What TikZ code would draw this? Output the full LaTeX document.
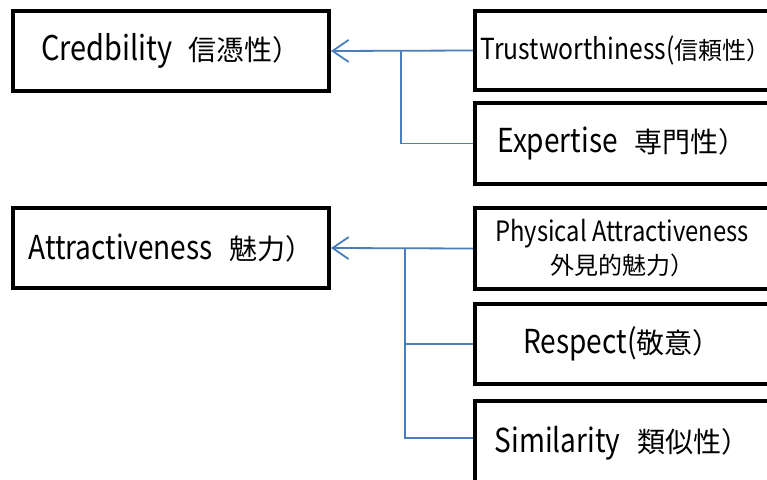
\documentclass[tikz,border=0pt]{standalone}
\usepackage{fontspec}
\setmainfont{Noto Sans CJK JP}
\newfontfamily\latf[FakeStretch=0.85]{Noto Sans CJK JP}
\newcommand\latx[2]{{\latf\fontsize{#1}{#1}\selectfont #2}}
\usetikzlibrary{arrows.meta}
\definecolor{conncol}{RGB}{74,126,187}
\tikzset{
  box/.style={draw=black, line width=4pt, fill=white, rectangle, inner sep=0pt, align=center},
  conn/.style={draw=conncol, line width=1.8pt},
  arr/.style={conn, {Straight Barb[length=16pt,width=22pt,line width=1.8pt]}-},
  bigtxt/.style={font=\fontsize{28}{30}\selectfont},
  midtxt/.style={font=\fontsize{24}{28}\selectfont},
  smalltxt/.style={font=\fontsize{24}{33}\selectfont}
}
\begin{document}
\begin{tikzpicture}[x=1pt,y=-1pt]
\useasboundingbox (0,0) rectangle (767,479);
\clip (0,0) rectangle (767,479);
% left boxes
\node[box, bigtxt, minimum width=316pt, minimum height=80pt] (cred) at (171,51) {\latx{34}{Credbility}\hspace{0.6em}信憑性）};
\node[box, bigtxt, minimum width=316pt, minimum height=80pt] (attr) at (171,248) {\latx{33}{Attractiveness}\hspace{0.6em}魅力）};
% right boxes
\node[box, midtxt, minimum width=294pt, minimum height=79pt] (trust) at (622,50.5) {\latx{29}{Trustworthiness(}信頼性）\hspace{-0.3em}};
\node[box, bigtxt, minimum width=294pt, minimum height=81pt] (exp) at (622,143.5) {\latx{33}{Expertise}\hspace{0.6em}専門性）};
\node[box, smalltxt, minimum width=294pt, minimum height=81pt] (phys) at (622,248.5) {\latx{28}{Physical Attractiveness}\\外見的魅力）};
\node[box, bigtxt, minimum width=294pt, minimum height=80pt] (resp) at (622,344) {\latx{33}{Respect(}敬意）};
\node[box, bigtxt, minimum width=294pt, minimum height=84pt] (sim) at (622,443) {\latx{33}{Similarity}\hspace{0.6em}類似性）};
% connectors
\coordinate (j1) at (401,51);
\coordinate (j2) at (405,248);
\draw[arr] (cred.east) -- (trust.west);
\draw[conn] (j1) |- (exp.west);
\draw[arr] (attr.east) -- (phys.west);
\draw[conn] (j2) |- ([yshift=5pt]sim.west);
\draw[conn] (j2 |- resp.west) -- (resp.west);
\end{tikzpicture}
\end{document}
